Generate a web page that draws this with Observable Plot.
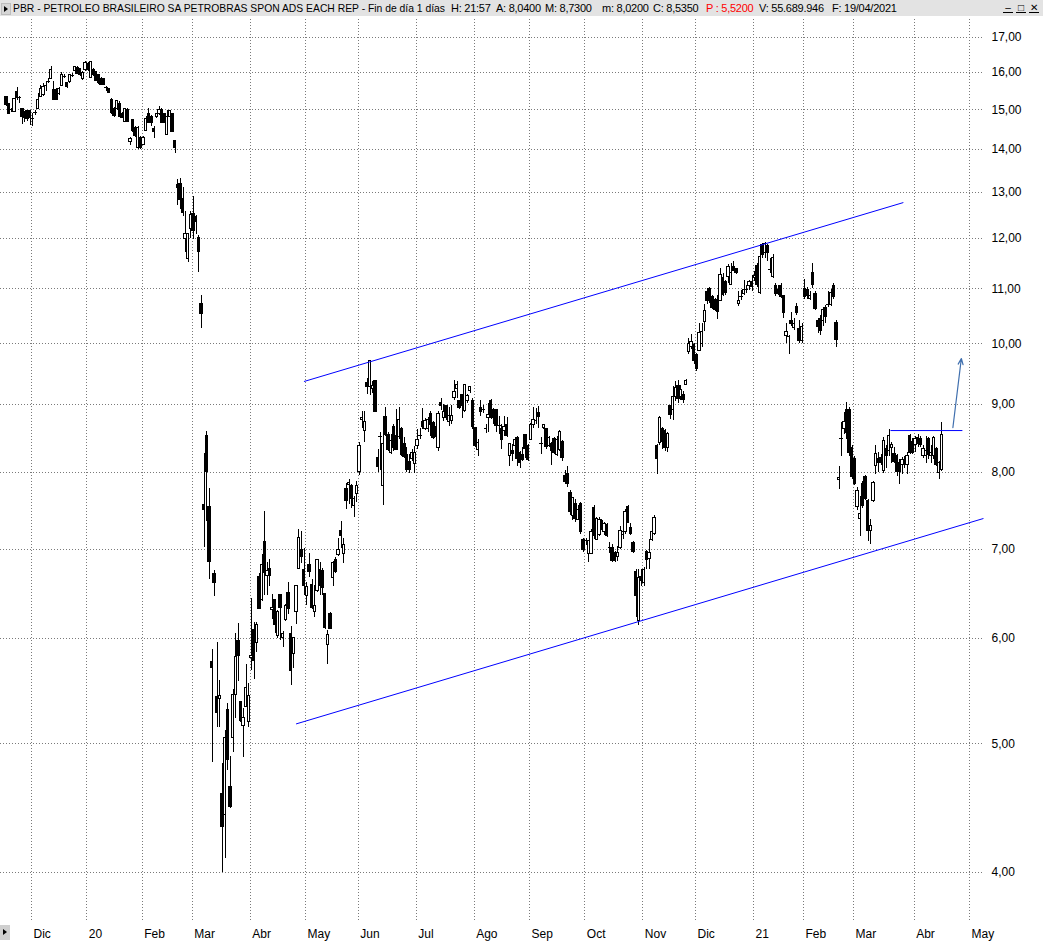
<!DOCTYPE html>
<html lang="es">
<head>
<meta charset="utf-8">
<script src="https://cdn.jsdelivr.net/npm/d3@7"></script>
<script src="https://cdn.jsdelivr.net/npm/@observablehq/plot@0.6"></script>
<style>
html,body{margin:0;padding:0;background:#fff;}
body{width:1043px;height:941px;position:relative;overflow:hidden;font-family:"Liberation Sans",Arial,sans-serif;}
#hdr{position:absolute;left:0;top:0;width:1043px;height:16px;background:#e3e3e3;font-size:11px;color:#000;}
#hdr span{position:absolute;top:0;line-height:16px;white-space:nowrap;letter-spacing:-0.25px;}
#hdr span#title{transform-origin:0 50%;letter-spacing:0;}
.ico{position:absolute;left:1px;top:3px;width:8px;height:10px;background:#d6d6d6;border:1px solid #bdbdbd;}
.ico:after{content:"";position:absolute;left:2px;top:2px;border-left:4px solid #000;border-top:3px solid transparent;border-bottom:3px solid transparent;}
.btn{position:absolute;top:3px;width:10px;height:9px;border-bottom:1px solid #000;font-size:10px;line-height:9px;text-align:center;}
#chart{position:absolute;left:0;top:18px;}
#corner{position:absolute;left:0;top:925px;width:10px;height:15px;background:#cfcfcf;}
#corner:after{content:"";position:absolute;left:3px;top:4px;border-left:4px solid #000;border-top:3px solid transparent;border-bottom:3px solid transparent;}
</style>
</head>
<body>
<div id="hdr">
  <div class="ico"></div>
  <span id="title" style="left:13px">PBR - PETROLEO BRASILEIRO SA PETROBRAS SPON ADS EACH REP - Fin de día 1 días</span>
  <span style="left:451px">H: 21:57</span>
  <span style="left:496px">A: 8,0400</span>
  <span style="left:545px">M: 8,7300</span>
  <span style="left:602px">m: 8,0200</span>
  <span style="left:653px">C: 8,5350</span>
  <span style="left:706px;color:#ff0000">P : 5,5200</span>
  <span style="left:759px">V: 55.689.946</span>
  <span style="left:832px">F: 19/04/2021</span>
  <div class="btn" style="left:1003px">&#8211;</div>
  <div class="btn" style="left:1016px">&#9633;</div>
  <div class="btn" style="left:1029px">&#10005;</div>
</div>
<div id="chart"></div>
<div id="corner"></div>
<script>
// ---- calendar (categories) ----
const startDate = "2019-11-18";
const endDate = "2021-05-03";
const holidays = ["2019-11-28","2019-12-25","2020-01-01","2020-01-20","2020-02-17","2020-04-10",
  "2020-05-25","2020-07-03","2020-09-07","2020-11-26","2020-12-25","2021-01-01","2021-01-18",
  "2021-02-15","2021-04-02"];
const monthAbbr = ["Ene","Feb","Mar","Abr","May","Jun","Jul","Ago","Sep","Oct","Nov","Dic"];
const yTicks = [4,5,6,7,8,9,10,11,12,13,14,15,16,17];
const yDomain = [3.674, 17.54];

// ---- daily candles [open, high, low, close] ----
const nov19_feb20 = [
[15.34,15.36,15.09,15.12],[15.14,15.16,14.88,14.90],[14.97,15.03,14.93,15.00],[14.95,15.30,14.92,15.27],
[15.47,15.60,15.25,15.30],[15.29,15.36,15.16,15.31],[15.01,15.03,14.62,14.82],[14.93,14.95,14.67,14.79],
[14.96,14.99,14.70,14.77],[14.96,14.99,14.60,14.79],[14.75,14.90,14.58,14.77],[14.92,14.99,14.86,14.94],
[15.03,15.43,15.02,15.25],[15.34,15.64,15.32,15.56],[15.38,15.69,15.34,15.60],[15.62,15.73,15.47,15.64],
[15.74,15.84,15.69,15.76],[15.82,16.17,15.80,16.06],[15.53,15.76,15.23,15.25],[15.51,15.56,15.23,15.25],
[15.41,15.60,15.38,15.54],[15.63,16.01,15.62,15.93],[15.88,15.95,15.83,15.90],[15.70,15.73,15.57,15.60],
[15.73,15.95,15.70,15.92],[15.91,15.97,15.86,15.93],[16.03,16.17,16.02,16.15],[16.12,16.17,15.95,15.97],
[16.10,16.12,15.90,15.92],[15.82,16.03,15.79,15.99],[16.06,16.31,16.03,16.27],[16.23,16.27,16.03,16.06],
[15.86,16.31,15.84,16.30],[16.08,16.10,15.89,15.92],[16.01,16.03,15.75,15.77],[15.92,15.95,15.68,15.70],
[15.83,15.86,15.64,15.66],[15.82,15.83,15.64,15.67],[15.56,15.61,15.47,15.58],[15.56,15.57,15.43,15.45],
[15.25,15.30,14.89,14.92],[15.03,15.05,14.80,14.83],[15.03,15.25,14.99,15.23],[15.16,15.21,14.79,14.82],
[14.89,14.92,14.77,14.79],[14.69,15.02,14.67,15.01],[14.99,15.02,14.66,14.69],[14.18,14.30,14.09,14.27],
[14.73,14.76,14.43,14.47],[14.53,14.56,14.30,14.34],[14.03,14.56,14.01,14.53],[14.29,14.32,14.01,14.03],
[14.12,14.32,14.09,14.29],[14.47,14.82,14.44,14.77],[14.90,15.03,14.64,14.67],[14.82,14.86,14.56,14.67],
[14.51,14.56,14.27,14.43],[14.82,14.90,14.77,14.88],[14.88,15.08,14.86,14.99],[14.99,15.03,14.65,14.67],
[14.89,14.90,14.64,14.67],[14.36,14.99,14.34,14.82],[14.82,14.99,14.79,14.96],[14.88,14.90,14.41,14.43],
[14.21,14.23,13.90,14.03]
];
const feb20_apr20 = [
[13.16,13.30,12.70,13.09],[13.20,13.32,12.61,12.83],[12.84,13.10,12.46,12.55],[12.00,12.57,11.71,12.09],
[11.58,12.10,11.51,12.10],[12.21,12.57,12.00,12.50],[12.52,12.91,11.98,12.16],[12.45,12.48,12.09,12.34],
[12.02,12.07,11.31,11.73],[10.71,10.88,10.27,10.53],[7.56,8.27,7.03,7.50],[8.52,8.59,7.35,8.00],
[7.53,7.78,6.65,6.85],[5.76,5.89,4.84,5.70],[6.71,6.75,6.45,6.60],[5.42,5.96,5.14,5.27],
[5.40,5.58,5.14,5.43],[4.58,4.83,4.00,4.33],[4.42,5.12,4.10,5.05],[5.30,5.36,4.77,4.86],
[4.64,4.89,4.47,4.48],[5.05,5.49,4.92,5.44],[5.44,6.05,5.22,5.81],[5.97,6.16,5.57,5.82],
[5.37,5.38,5.19,5.20],[5.16,5.31,4.88,5.23],[5.33,5.74,5.33,5.51],[5.19,5.55,5.14,5.43],
[5.80,6.43,5.68,5.82],[6.09,6.17,5.59,5.77],[5.95,6.17,5.86,6.14],[6.67,6.71,6.31,6.32],
[6.41,6.94,6.40,6.81],[7.09,7.48,6.46,6.72],[6.69,6.84,6.46,6.74],[6.77,6.88,6.56,6.69],
[6.30,6.47,6.20,6.33],[6.41,6.41,6.05,6.14],[6.03,6.30,6.00,6.28],[6.47,6.48,5.98,6.33],
[6.00,6.07,5.91,6.05],[6.19,6.36,6.18,6.35],[6.49,6.61,6.25,6.32],[6.05,6.13,5.53,5.67],
[5.84,6.00,5.70,6.00],[6.28,6.58,6.15,6.57],[6.77,7.25,6.76,7.14],[7.00,7.22,6.83,6.91],
[6.76,7.01,6.46,6.57]
];
const may20_jul20 = [
[6.46,6.61,6.35,6.56],[6.82,6.95,6.67,6.73],[6.58,6.65,6.31,6.33],[6.28,6.58,6.22,6.35],
[6.51,6.88,6.50,6.87],[6.76,6.84,6.46,6.57],[6.75,6.77,6.46,6.55],[6.48,6.48,6.09,6.11],
[5.93,6.08,5.74,6.04],[6.26,6.28,6.09,6.10],[6.66,6.86,6.56,6.84],[6.88,6.90,6.71,6.73],
[6.93,7.14,6.92,6.99],[7.23,7.35,7.01,7.17],[6.95,7.14,6.83,7.06],[7.77,7.85,7.50,7.61],
[7.83,7.90,7.57,7.85],[7.82,7.83,7.51,7.64],[7.55,7.68,7.40,7.64],[7.71,7.87,7.59,7.82],
[8.00,8.42,7.96,8.38],[8.76,8.89,8.64,8.79],[8.59,8.89,8.42,8.73],[9.35,9.42,9.15,9.28],
[9.28,9.72,9.14,9.71],[9.25,9.37,9.18,9.30],[9.37,9.38,8.89,8.89],[8.20,8.32,8.00,8.08],
[8.50,8.57,8.03,8.52],[7.81,8.81,7.55,8.40],[8.80,8.96,8.52,8.54],[8.54,8.57,8.29,8.32],
[8.28,8.54,8.26,8.45],[8.66,8.69,8.30,8.35],[8.52,8.92,8.32,8.32],[8.51,8.96,8.47,8.76],
[8.62,8.65,8.22,8.25],[8.40,8.50,8.20,8.22],[8.25,8.35,8.00,8.03],[8.15,8.25,7.98,8.03],
[8.19,8.32,8.15,8.27],[8.12,8.37,7.98,8.27],[8.37,8.62,8.32,8.47],[8.51,8.64,8.47,8.53],
[8.73,8.94,8.62,8.66],[8.63,8.78,8.60,8.74],[8.62,8.80,8.58,8.76],[8.86,8.89,8.52,8.68],
[8.72,8.74,8.47,8.50],[8.64,8.67,8.50,8.52],[8.35,8.89,8.30,8.86],[9.02,9.09,8.91,8.97],
[8.79,9.00,8.74,8.89],[8.97,8.98,8.76,8.79],[8.73,8.96,8.67,8.82],[8.74,8.98,8.70,8.83],
[9.11,9.39,9.07,9.19],[9.25,9.37,9.09,9.31],[9.05,9.06,8.93,8.95],[9.15,9.15,8.79,8.97],
[8.90,9.31,8.88,9.31],[9.06,9.15,9.01,9.13],[9.22,9.29,9.18,9.27],[9.06,9.09,8.62,8.66],
[8.64,8.65,8.36,8.38],[8.32,8.47,8.23,8.42]
];
const aug20_nov20 = [
[8.94,9.06,8.82,8.89],[8.91,8.98,8.86,8.93],[8.62,8.69,8.56,8.64],[8.79,9.01,8.57,8.84],
[9.06,9.08,8.77,8.79],[8.91,8.94,8.69,8.79],[8.91,8.92,8.57,8.67],[8.66,8.81,8.54,8.68],
[8.62,8.69,8.33,8.46],[8.60,8.81,8.52,8.65],[8.68,8.80,8.50,8.52],[8.23,8.41,8.09,8.40],
[8.31,8.40,8.15,8.26],[8.38,8.50,8.30,8.47],[8.50,8.52,8.08,8.19],[8.27,8.30,8.06,8.13],
[8.25,8.35,8.16,8.18],[8.53,8.54,8.20,8.33],[8.37,8.40,8.15,8.17],[8.47,8.71,8.45,8.69],
[8.68,8.96,8.64,8.76],[8.73,8.94,8.69,8.75],[8.87,8.97,8.64,8.81],[8.39,8.50,8.25,8.41],
[8.64,8.69,8.62,8.68],[8.62,8.64,8.32,8.36],[8.37,8.52,8.35,8.49],[8.41,8.42,8.10,8.30],
[8.48,8.50,8.25,8.27],[8.25,8.52,8.22,8.47],[8.32,8.60,8.30,8.58],[8.43,8.45,8.15,8.21],
[7.95,8.03,7.84,7.87],[7.98,8.08,7.79,7.84],[7.72,7.75,7.42,7.47],[7.42,7.66,7.36,7.65],
[7.58,7.64,7.34,7.38],[7.37,7.55,7.36,7.49],[7.58,7.60,7.19,7.22],[7.12,7.14,6.96,6.99],
[7.10,7.14,7.05,7.11],[6.95,7.10,6.84,7.10],[6.95,7.25,6.95,7.22],[7.52,7.56,7.12,7.17],
[7.12,7.40,7.12,7.38],[7.18,7.40,7.16,7.37],[7.36,7.38,7.23,7.26],[7.21,7.34,7.17,7.32],
[7.30,7.32,7.15,7.17],[7.01,7.08,6.95,7.02],[7.02,7.06,6.85,6.86],[6.96,6.98,6.84,6.86],
[6.91,7.04,6.86,6.96],[7.02,7.29,7.00,7.23],[7.18,7.40,7.12,7.22],[7.21,7.50,7.19,7.47],
[7.53,7.56,7.32,7.33],[7.27,7.32,7.17,7.19],[7.08,7.10,6.95,6.97],[6.73,6.76,6.22,6.46],
[6.18,6.76,6.14,6.66],[6.67,6.76,6.56,6.63],[6.61,6.78,6.57,6.76],[6.97,6.99,6.76,6.87],
[6.89,7.12,6.76,6.96],[7.12,7.25,7.10,7.21],[7.19,7.42,7.17,7.39],[8.37,8.40,7.97,8.19]
];
const nov20_feb21 = [
[8.42,8.81,8.38,8.79],[8.63,8.65,8.33,8.43],[8.60,8.62,8.30,8.34],[8.34,8.58,8.28,8.55],
[8.97,8.99,8.77,8.84],[8.91,9.28,8.76,9.12],[9.12,9.36,9.05,9.26],[9.29,9.39,9.02,9.09],
[9.12,9.30,9.07,9.23],[9.15,9.20,9.02,9.07],[9.31,9.40,9.30,9.37],[9.85,10.09,9.81,10.00],
[9.95,10.17,9.90,10.03],[9.97,10.00,9.64,9.70],[9.81,9.84,9.53,9.57],[9.88,10.36,9.86,10.18],
[9.99,10.35,9.94,10.21],[10.39,10.70,10.21,10.58],[10.94,11.00,10.70,10.77],[11.00,11.03,10.73,10.77],
[10.85,10.88,10.61,10.64],[10.79,10.82,10.58,10.61],[10.79,10.88,10.42,10.56],[10.77,11.40,10.75,11.27],
[11.20,11.30,10.85,10.88],[11.13,11.16,10.88,10.91],[11.23,11.47,11.10,11.43],[11.07,11.50,11.07,11.31],
[11.42,11.53,11.33,11.35],[11.38,11.40,11.27,11.30],[10.72,10.94,10.67,10.77],[10.84,10.97,10.77,10.86],
[10.90,11.16,10.88,10.97],[10.96,11.07,10.91,10.98],[11.05,11.16,10.97,11.13],[11.13,11.26,10.94,11.04],
[11.20,11.33,11.13,11.25],[11.45,11.50,11.03,11.07],[10.92,11.67,10.90,11.63],[11.87,11.90,11.60,11.67],
[11.70,11.92,11.60,11.89],[11.85,11.87,11.53,11.70],[11.39,11.60,11.30,11.38],[11.23,11.67,11.20,11.60],
[11.05,11.10,10.85,10.90],[10.98,11.07,10.88,10.90],[11.05,11.10,10.82,10.85],[10.86,10.88,10.45,10.54],
[10.14,10.35,10.00,10.20],[10.10,10.15,9.81,10.12],[10.41,10.55,10.30,10.35],[10.28,10.44,10.24,10.35],
[10.65,10.73,10.50,10.55],[10.25,10.41,10.00,10.05],[10.05,10.36,10.00,10.30],[11.00,11.17,10.79,10.85],
[10.98,11.03,10.80,10.86],[10.80,10.94,10.78,10.86],[11.30,11.50,11.00,11.07],[10.90,10.94,10.60,10.62],
[10.41,10.45,10.18,10.29],[10.44,10.50,10.15,10.23],[10.41,10.64,10.30,10.61],[10.64,10.68,10.35,10.48],
[10.72,10.94,10.64,10.70],[10.70,10.98,10.67,10.92],[11.06,11.10,10.79,10.85],[10.36,10.41,9.93,10.06]
];
const feb21_apr21 = [
[7.89,8.09,7.77,7.92],[8.47,8.73,8.23,8.49],[8.62,8.87,8.55,8.73],[8.92,9.03,8.47,8.57],
[8.91,8.96,8.23,8.28],[8.35,8.38,7.91,7.94],[8.19,8.23,7.82,7.84],[7.53,7.79,7.49,7.75],
[7.38,7.68,7.16,7.45],[7.84,7.87,7.51,7.55],[7.94,7.96,7.62,7.64],[7.62,7.64,7.10,7.23],
[7.23,7.38,7.06,7.29],[7.62,7.88,7.59,7.86],[8.09,8.38,7.97,8.26],[8.19,8.28,8.00,8.13],
[8.20,8.25,8.10,8.13],[8.02,8.50,7.99,8.45],[8.33,8.38,8.05,8.23],[8.30,8.62,8.23,8.52],
[8.35,8.43,8.13,8.39],[8.26,8.35,8.13,8.15],[8.23,8.26,7.94,8.01],[8.13,8.18,7.83,8.01],
[8.11,8.21,7.97,8.18],[8.18,8.23,8.05,8.13],[8.11,8.28,7.97,8.23],[8.52,8.55,8.25,8.28],
[8.44,8.49,8.26,8.28],[8.39,8.52,8.28,8.48],[8.49,8.54,8.35,8.40],[8.48,8.52,8.35,8.39],
[8.23,8.38,8.20,8.33],[8.23,8.52,8.13,8.30],[8.48,8.50,8.18,8.24],[8.23,8.38,8.13,8.28],
[8.23,8.52,8.18,8.50],[8.33,8.35,8.08,8.11],[7.99,8.16,7.90,8.13],[8.04,8.73,8.02,8.535]
];

// ---- drawn lines: [trading-day index, price] endpoints ----
const channelLines = [
  {x1: 112.9, y1: 9.366, x2: 340.4, y2: 12.772},
  {x1: 109.9, y1: 5.174, x2: 370.8, y2: 7.387},
  {x1: 335.5, y1: 8.603, x2: 362.8, y2: 8.603}
];
const targetArrow = [{x1: 359.2, y1: 8.648, x2: 362.4, y2: 9.747}];

// ---- build trading-day calendar ----
const days = [];
for (let d = new Date(startDate + "T12:00:00Z"); d <= new Date(endDate + "T12:00:00Z"); d.setUTCDate(d.getUTCDate() + 1)) {
  const wd = d.getUTCDay(), s = d.toISOString().slice(0, 10);
  if (wd === 0 || wd === 6 || holidays.includes(s)) continue;
  days.push(s);
}
const monthTicks = [];
days.forEach((s, i) => {
  if (i > 0 && s.slice(5, 7) !== days[i - 1].slice(5, 7)) {
    const m = +s.slice(5, 7);
    monthTicks.push({pos: i + 0.5, label: m === 1 ? s.slice(2, 4) : monthAbbr[m - 1]});
  }
});
const labelOf = new Map(monthTicks.map(d => [d.pos, d.label]));

const candles = [nov19_feb20, feb20_apr20, may20_jul20, aug20_nov20, nov20_feb21, feb21_apr21]
  .flat().map(([o, h, l, c], i) => ({i, date: days[i], o, h, l, c}));
const isFlat = d => Math.abs(d.c - d.o) / d.o < 0.0025;
const up = candles.filter(d => d.c >= d.o && !isFlat(d));
const down = candles.filter(d => d.c < d.o && !isFlat(d));
const flat = candles.filter(isFlat);

const xDomain = [-2.28, 365.5];
const gridEnd = 370.8;
const halfBody = 0.45;

const chart = Plot.plot({
  width: 1043, height: 923,
  marginLeft: 0, marginRight: 74, marginTop: 1, marginBottom: 20,
  style: {fontFamily: "'Liberation Sans', Arial, sans-serif", fontSize: "12px", color: "#000", background: "#fff"},
  x: {domain: xDomain, axis: null},
  y: {type: "log", domain: yDomain, axis: null},
  marks: [
    Plot.ruleY(yTicks, {y: d => d, x1: xDomain[0], x2: gridEnd, stroke: "#7a7a7a", strokeDasharray: "1,2", shapeRendering: "crispEdges"}),
    Plot.ruleX(monthTicks, {x: "pos", stroke: "#7a7a7a", strokeDasharray: "1,2", shapeRendering: "crispEdges"}),
    Plot.axisY(yTicks, {anchor: "right", tickSize: 0, tickPadding: 22, label: null, fontSize: 12,
      tickFormat: d => d.toFixed(2).replace(".", ",")}),
    Plot.axisX(monthTicks.map(d => d.pos), {anchor: "bottom", tickSize: 0, tickPadding: 8, label: null, fontSize: 12,
      textAnchor: "start", dx: 2, tickFormat: d => labelOf.get(d)}),
    Plot.ruleX(candles, {x: "i", y1: "l", y2: "h", stroke: "#000", strokeWidth: 1, shapeRendering: "crispEdges"}),
    Plot.rect(up, {x1: d => d.i - halfBody, x2: d => d.i + halfBody, y1: "o", y2: "c", fill: "#fff", stroke: "#000", strokeWidth: 1, shapeRendering: "crispEdges"}),
    Plot.rect(down, {x1: d => d.i - halfBody, x2: d => d.i + halfBody, y1: "o", y2: "c", fill: "#000", stroke: "#000", strokeWidth: 1, shapeRendering: "crispEdges"}),
    Plot.ruleY(flat, {y: "c", x1: d => d.i - 0.7, x2: d => d.i + 0.7, stroke: "#000", strokeWidth: 1, shapeRendering: "crispEdges"}),
    Plot.link(channelLines, {x1: "x1", y1: "y1", x2: "x2", y2: "y2", stroke: "#0000ff", strokeWidth: 1}),
    Plot.arrow(targetArrow, {x1: "x1", y1: "y1", x2: "x2", y2: "y2", stroke: "#3f6fae", strokeWidth: 1.2, headLength: 8, headAngle: 45})
  ]
});
document.getElementById("chart").appendChild(chart);

// fit the long title into the header like the reference
const t = document.getElementById("title");
const w = t.getBoundingClientRect().width;
if (w > 0) t.style.transform = `scaleX(${432 / w})`;
</script>
</body>
</html>
